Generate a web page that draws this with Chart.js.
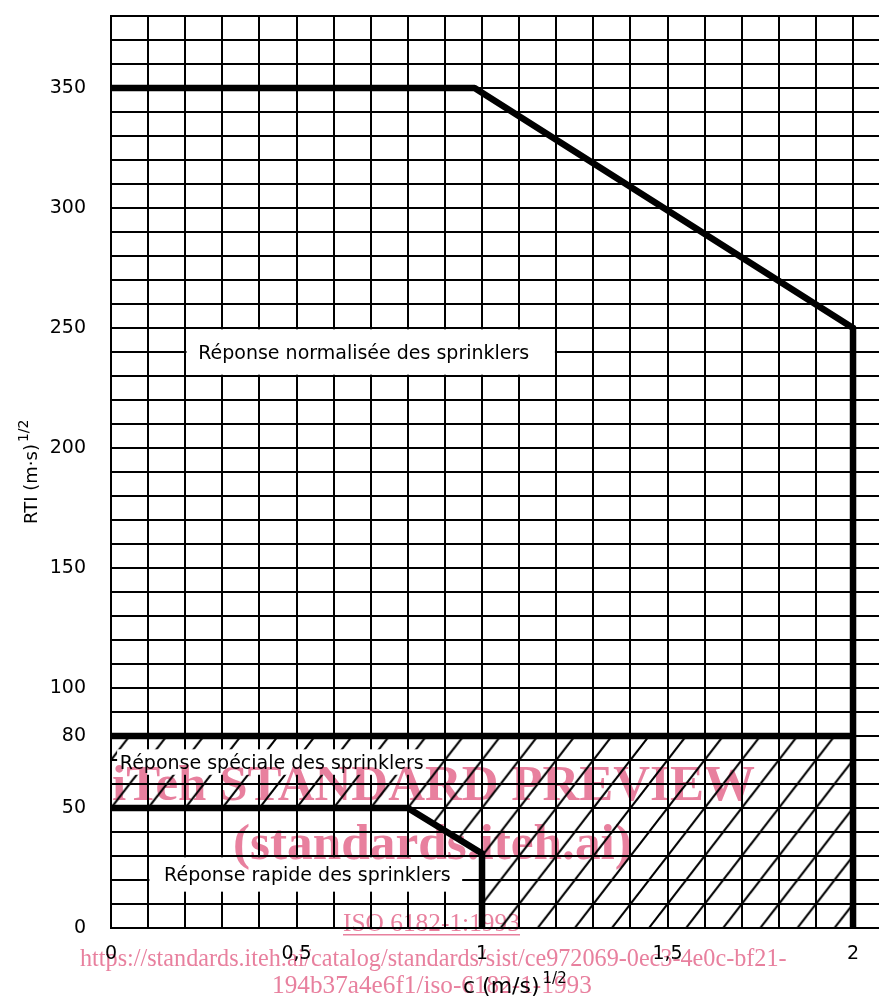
<!DOCTYPE html>
<html lang="fr">
<head>
<meta charset="utf-8">
<title>RTI - C</title>
<script src="https://cdn.jsdelivr.net/npm/chart.js@4.4.1/dist/chart.umd.min.js"></script>
<style>
    html, body { margin: 0; padding: 0; background: #fff; }
    #box { width: 879px; height: 998px; }
</style>
</head>
<body>
<div id="box"><canvas id="rtiChart"></canvas></div>
<script>
// limites des domaines (C en (m/s)^1/2, RTI en (m·s)^1/2)
const cNormal = [0, 0.98, 2, 2];
const rtiNormal = [350, 350, 250, 0];
const cSpecial = [0, 2];
const rtiSpecial = [80, 80];
const cRapid = [0, 0.8, 1, 1];
const rtiRapid = [50, 50, 31, 0];

// graduations
const xLabelValues = [0, 0.5, 1, 1.5, 2];
const xLabelTexts = ['0', '0,5', '1', '1,5', '2'];
const yLabelValues = [0, 50, 80, 100, 150, 200, 250, 300, 350];

const SANS = '"DejaVu Sans", sans-serif';
const SERIF = '"Liberation Serif", serif';
const PINK = '#e8809e';

const toPoints = (xs, ys) => xs.map((x, i) => ({ x: x, y: ys[i] }));

// zone hachuree : sous la limite 80, hors du domaine rapide
const hatchZone = toPoints(cSpecial, rtiSpecial)
    .concat([{ x: cNormal[3], y: rtiNormal[3] }])
    .concat(toPoints(cRapid, rtiRapid).reverse());

const ctx = document.getElementById('rtiChart').getContext('2d');

// motif de hachures
const TILE_W = 37, TILE_H = 48;
const tile = document.createElement('canvas');
tile.width = TILE_W;
tile.height = TILE_H;
const tctx = tile.getContext('2d');
tctx.strokeStyle = '#000';
tctx.lineWidth = 2;
[-TILE_W, 0, TILE_W].forEach(dx => {
    tctx.beginPath();
    tctx.moveTo(dx, TILE_H);
    tctx.lineTo(dx + TILE_W, 0);
    tctx.stroke();
});
const hatch = ctx.createPattern(tile, 'repeat');

// cadres blancs des legendes
const boxes = [
    { text: 'Réponse normalisée des sprinklers', c0: 0.2, c1: 1.2, r0: 230, r1: 250, dx: 13 },
    { text: 'Réponse spéciale des sprinklers', c0: 0.013, c1: 0.86, r0: 63.3, r1: 75, dx: 4 },
    { text: 'Réponse rapide des sprinklers', c0: 0.1, c1: 0.95, r0: 14.6, r1: 30, dx: 16 }
];

function fitText(c, text, left, right, baseline, weight, guess) {
    c.font = weight + ' ' + guess + 'px ' + SERIF;
    const w = c.measureText(text).width;
    const size = guess * (right - left) / w;
    c.font = weight + ' ' + size + 'px ' + SERIF;
    c.fillText(text, left, baseline);
}

const decor = {
    id: 'decor',
    beforeDatasetsDraw(chart) {
        const x = chart.scales.x, y = chart.scales.y;
        const col = x.getPixelForValue(0.1) - x.getPixelForValue(0);
        const row = y.getPixelForValue(0) - y.getPixelForValue(10);
        hatch.setTransform(new DOMMatrix()
            .translate(x.getPixelForValue(0) + col / 2, y.getPixelForValue(0))
            .scale(col / TILE_W, 2 * row / TILE_H));
    },
    afterDatasetsDraw(chart) {
        const c = chart.ctx, x = chart.scales.x, y = chart.scales.y;
        c.save();
        boxes.forEach(b => {
            const l = x.getPixelForValue(b.c0), r = x.getPixelForValue(b.c1);
            const t = y.getPixelForValue(b.r1), btm = y.getPixelForValue(b.r0);
            c.fillStyle = '#fff';
            c.fillRect(l + 1.3, t + 1.3, r - l - 2.6, btm - t - 2.6);
            c.fillStyle = '#000';
            c.font = '19px ' + SANS;
            c.textAlign = 'left';
            c.textBaseline = 'alphabetic';
            c.fillText(b.text, l + b.dx, (t + btm) / 2 + 7);
        });
        c.restore();
    },
    afterDraw(chart) {
        const c = chart.ctx;
        c.save();
        c.fillStyle = '#000';
        c.textBaseline = 'alphabetic';
        c.textAlign = 'left';

        // titre axe vertical
        c.save();
        c.translate(37, 524);
        c.rotate(-Math.PI / 2);
        c.font = '18px ' + SANS;
        c.fillText('RTI (m·s)', 0, 0);
        const wy = c.measureText('RTI (m·s)').width;
        c.font = '14px ' + SANS;
        c.fillText('1/2', wy + 2, -9);
        c.restore();

        // titre axe horizontal
        c.font = '22px ' + SANS;
        c.fillText('c (m/s)', 463, 993);
        const wx = c.measureText('c (m/s)').width;
        c.font = '15px ' + SANS;
        c.fillText('1/2', 463 + wx + 3, 983);

        // filigrane
        c.globalCompositeOperation = 'multiply';
        c.fillStyle = PINK;
        fitText(c, 'iTeh STANDARD PREVIEW', 112, 755, 800, 'bold', 50);
        fitText(c, '(standards.iteh.ai)', 233, 632, 859, 'bold', 50);
        fitText(c, 'ISO 6182-1:1993', 343, 520, 931, 'normal', 25);
        c.fillRect(343, 934, 177, 1.5);
        fitText(c, 'https://standards.iteh.ai/catalog/standards/sist/ce972069-0ec3-4e0c-bf21-', 80, 787, 966, 'normal', 25);
        fitText(c, '194b37a4e6f1/iso-6182-1-1993', 272, 592, 993, 'normal', 25);
        c.restore();
    }
};

const lineStyle = {
    borderColor: '#000',
    borderWidth: 6.5,
    pointRadius: 0,
    pointHoverRadius: 0,
    showLine: true,
    fill: false,
    tension: 0,
    borderCapStyle: 'round',
    borderJoinStyle: 'round'
};

const rtiChart = new Chart(ctx, {
    type: 'scatter',
    data: {
        datasets: [
            { label: 'Réponse normalisée', data: toPoints(cNormal, rtiNormal), ...lineStyle },
            { label: 'Réponse spéciale', data: toPoints(cSpecial, rtiSpecial), ...lineStyle },
            { label: 'Réponse rapide', data: toPoints(cRapid, rtiRapid), ...lineStyle },
            {
                label: 'hachures',
                data: hatchZone,
                showLine: true,
                borderWidth: 0,
                borderColor: 'rgba(0,0,0,0)',
                pointRadius: 0,
                pointHoverRadius: 0,
                fill: 'shape',
                backgroundColor: hatch
            }
        ]
    },
    options: {
        responsive: true,
        maintainAspectRatio: false,
        animation: false,
        layout: { padding: { top: 16, right: 0, bottom: 0, left: 0 } },
        plugins: {
            legend: { display: false },
            tooltip: { enabled: false }
        },
        scales: {
            x: {
                type: 'linear',
                min: 0,
                max: 2.07,
                afterFit: s => {
                    s.height = 70;
                    s.paddingLeft = 0;
                    s.paddingRight = 0;
                },
                grid: { color: '#000', lineWidth: 2, drawTicks: false },
                border: { color: '#000', width: 2 },
                ticks: {
                    stepSize: 0.1,
                    includeBounds: false,
                    autoSkip: false,
                    maxRotation: 0,
                    padding: 15,
                    color: '#000',
                    font: { family: SANS, size: 19 },
                    callback: v => {
                        const i = xLabelValues.findIndex(l => Math.abs(l - v) < 1e-6);
                        return i >= 0 ? xLabelTexts[i] : '';
                    }
                }
            },
            y: {
                type: 'linear',
                min: 0,
                max: 380,
                afterFit: s => {
                    s.width = 111;
                    s.paddingTop = 0;
                    s.paddingBottom = 0;
                },
                grid: { color: '#000', lineWidth: 2, drawTicks: false },
                border: { color: '#000', width: 2 },
                ticks: {
                    stepSize: 10,
                    includeBounds: false,
                    autoSkip: false,
                    padding: 25,
                    color: '#000',
                    font: { family: SANS, size: 19 },
                    callback: v => yLabelValues.includes(v) ? String(v) : ''
                }
            }
        }
    },
    plugins: [decor]
});
</script>
</body>
</html>
